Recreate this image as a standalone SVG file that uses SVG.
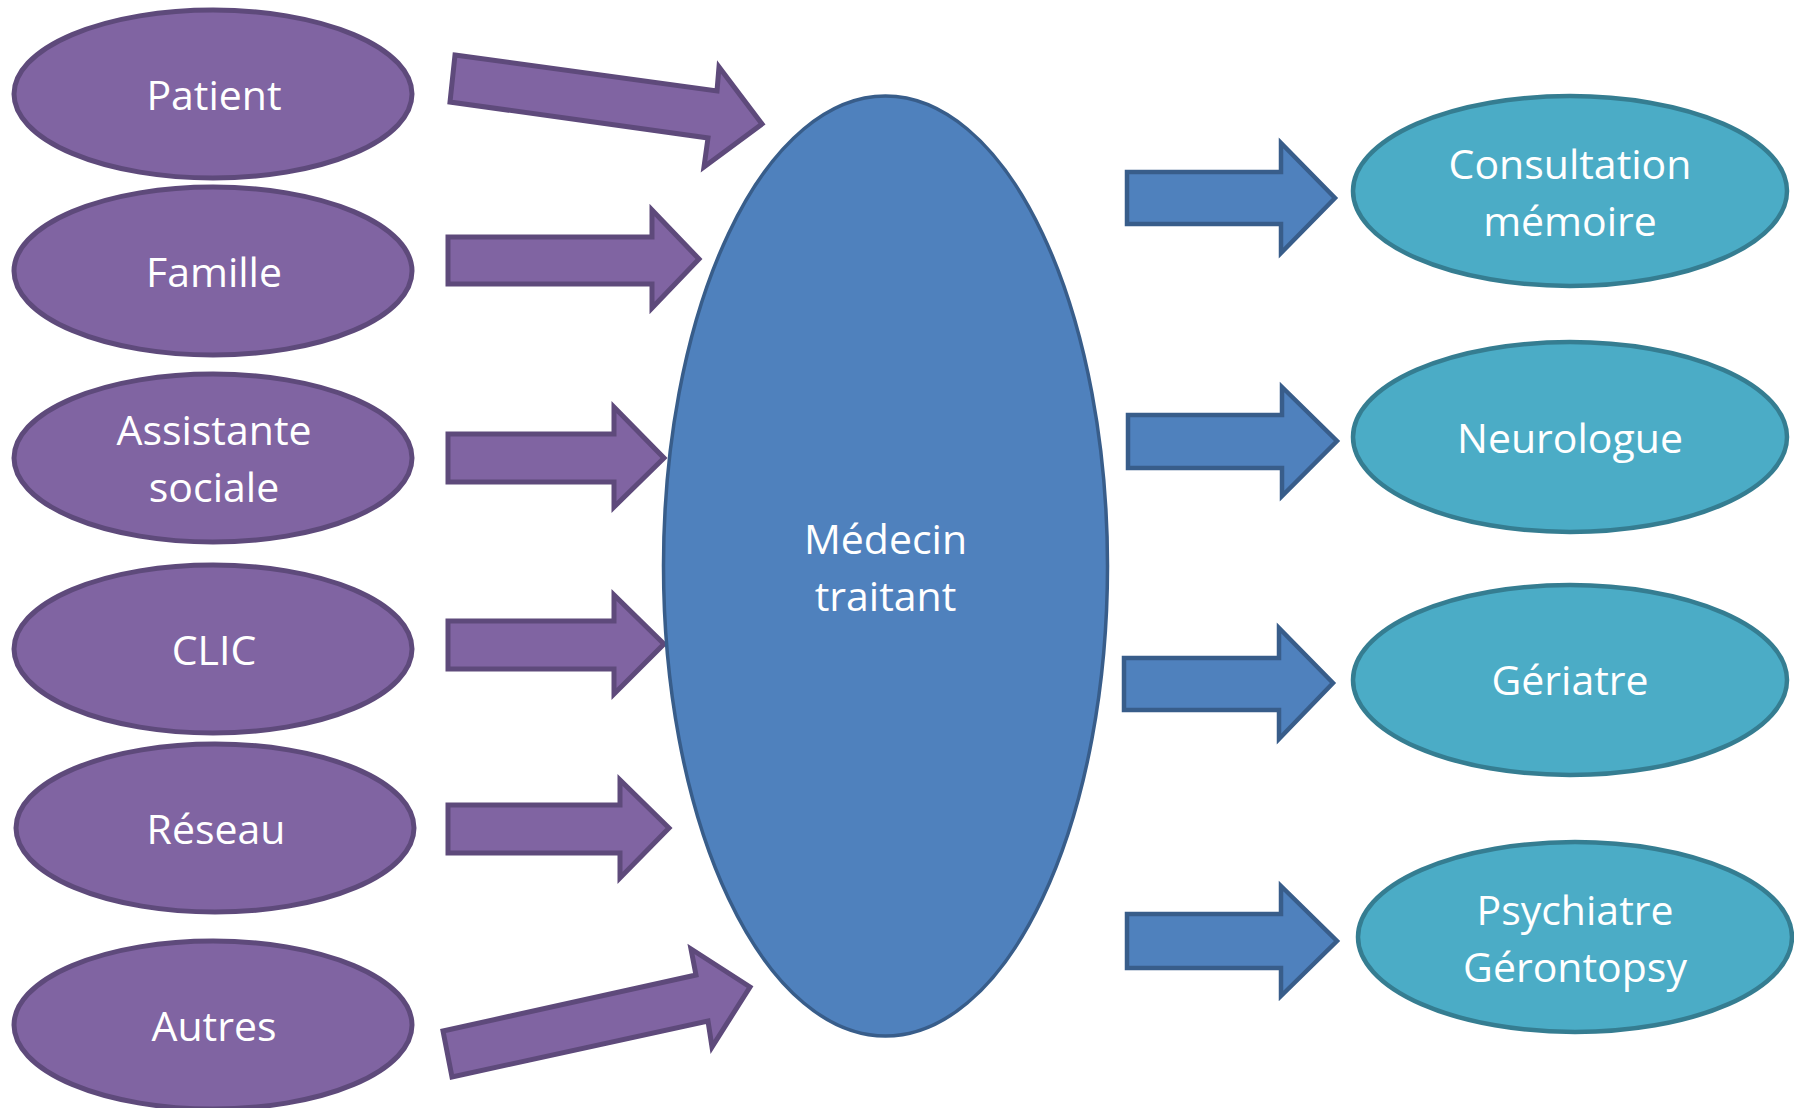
<svg xmlns="http://www.w3.org/2000/svg" width="1794" height="1108" viewBox="0 0 1794 1108">
<style>
.src{fill:#8064A2;stroke:#5E4A7B;stroke-width:5}
.mid{fill:#4F81BD;stroke:#385D8A;stroke-width:3.5}
.dst{fill:#4BACC6;stroke:#357D91;stroke-width:4.5}
.pa{fill:#8064A2;stroke:#5E4A7B;stroke-width:5;stroke-linejoin:miter}
.ba{fill:#4F81BD;stroke:#385D8A;stroke-width:4.5;stroke-linejoin:miter}
text{font-family:"Open Sans","Noto Sans","Liberation Sans",sans-serif;font-size:41px;fill:#FFFFFF;text-anchor:middle}
</style>
<rect width="1794" height="1108" fill="#FFFFFF"/>
<g id="connectors">
<polygon class="pa" points="455,55 717,91 719,67 762,124 704,167 708,138 450,102"/>
<polygon class="pa" points="448,237 652,237 652,210 699,259 652,308 652,284 448,284"/>
<polygon class="pa" points="448,434 614,434 614,407 664,458 614,507 614,482 448,482"/>
<polygon class="pa" points="448,621 614,621 614,595 664,644 614,694 614,669 448,669"/>
<polygon class="pa" points="448,805 620,805 620,780 669,828 620,878 620,853 448,853"/>
<polygon class="pa" points="443,1031 696,975 691,949 750,987 712,1047 708,1021 452,1077"/>
<polygon class="ba" points="1127,172 1281,172 1281,143 1335,198 1281,253 1281,224 1127,224"/>
<polygon class="ba" points="1128,415 1282,415 1282,387 1337,441 1282,496 1282,468 1128,468"/>
<polygon class="ba" points="1124,658 1279,658 1279,628 1333,683 1279,739 1279,710 1124,710"/>
<polygon class="ba" points="1127,914 1281,914 1281,886 1337,941 1281,996 1281,968 1127,968"/>
</g>
<g id="patient"><ellipse class="src" cx="213" cy="94" rx="199" ry="84"/><text x="214" y="110">Patient</text></g>
<g id="famille"><ellipse class="src" cx="213" cy="271" rx="199" ry="84"/><text x="214" y="287">Famille</text></g>
<g id="assistante"><ellipse class="src" cx="213" cy="458" rx="199" ry="84"/><text x="214" y="445">Assistante</text><text x="214" y="502">sociale</text></g>
<g id="clic"><ellipse class="src" cx="213" cy="649" rx="199" ry="84"/><text x="214" y="665">CLIC</text></g>
<g id="reseau"><ellipse class="src" cx="215" cy="828" rx="199" ry="84"/><text x="216" y="844">Réseau</text></g>
<g id="autres"><ellipse class="src" cx="213" cy="1025" rx="199" ry="84"/><text x="214" y="1041">Autres</text></g>
<g id="medecin"><ellipse class="mid" cx="885.5" cy="566" rx="222" ry="470"/><text x="885.5" y="554">Médecin</text><text x="885.5" y="611">traitant</text></g>
<g id="consultation"><ellipse class="dst" cx="1570" cy="191" rx="217" ry="95"/><text x="1570" y="179">Consultation</text><text x="1570" y="236">mémoire</text></g>
<g id="neurologue"><ellipse class="dst" cx="1570" cy="437" rx="217" ry="95"/><text x="1570" y="453">Neurologue</text></g>
<g id="geriatre"><ellipse class="dst" cx="1570" cy="680" rx="217" ry="95"/><text x="1570" y="695">Gériatre</text></g>
<g id="psychiatre"><ellipse class="dst" cx="1575" cy="937" rx="217" ry="95"/><text x="1575" y="925">Psychiatre</text><text x="1575" y="982">Gérontopsy</text></g>
</svg>
